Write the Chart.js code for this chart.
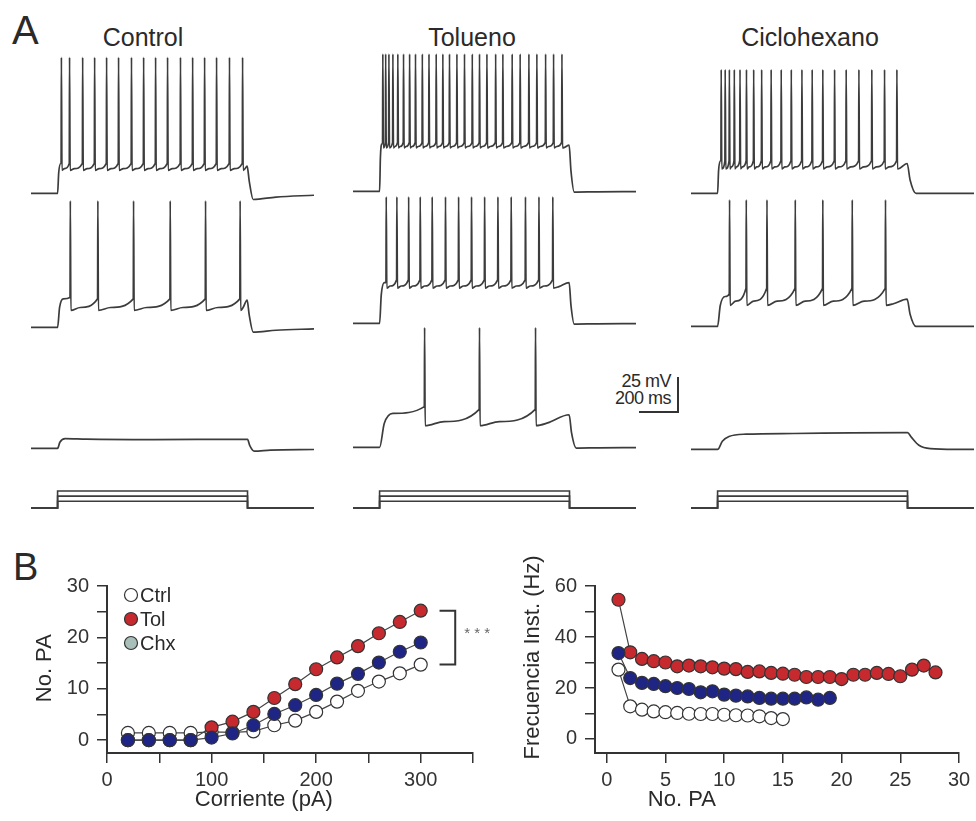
<!DOCTYPE html>
<html lang="es">
<head>
<meta charset="UTF-8">
<title>Tolueno / Ciclohexano - disparo de potenciales de acción</title>
<script src="https://cdn.jsdelivr.net/npm/chart.js@4"></script>
<style>
  body { margin: 0; background: #fff; font-family: 'Liberation Sans', Arial, Helvetica, sans-serif; color: #2a2a2a; }
  #fig { position: relative; width: 976px; height: 821px; overflow: hidden; }
  #fig canvas { position: absolute; }
  .lbl { position: absolute; white-space: nowrap; line-height: 1; }
  .panel { font-size: 40px; }
  .col-title { font-size: 25px; transform: translateX(-50%); }
  .scale-txt { font-size: 18px; text-align: right; letter-spacing: -0.5px; }
  #scalebar { position: absolute; border-right: 2px solid #333; border-bottom: 2px solid #333; }
</style>
</head>
<body>
<div id="fig">
  <div class="lbl panel" style="left:12px;top:10px">A</div>
  <div class="lbl panel" style="left:13px;top:548px;font-size:38px">B</div>
  <div class="lbl col-title" style="left:143px;top:25px">Control</div>
  <div class="lbl col-title" style="left:472px;top:25px">Tolueno</div>
  <div class="lbl col-title" style="left:810px;top:25px">Ciclohexano</div>
  <div class="lbl scale-txt" style="right:305px;top:372px">25 mV</div>
  <div class="lbl scale-txt" style="right:305px;top:389px">200 ms</div>
  <div id="scalebar"></div>
</div>

<script>
    const FONT = "'Liberation Sans', Arial, Helvetica, sans-serif";
    Chart.defaults.font.family = FONT;
    Chart.defaults.color = '#333';

    // ---------- Panel A: voltage traces ----------
    const tMin = -140, tMax = 1350;      // ms shown in each trace
    const stepOn = 0, stepOff = 1000;    // current step (ms)
    const restMV = -70;

    // spike times (ms after step onset)
    const ctrlSpikes1 = [20, 63, 132, 195, 258, 321, 389, 453, 516, 579, 647, 711, 774, 837, 905, 974];
    const ctrlSpikes2 = [67, 212, 400, 593, 779, 961];
    const tolSpikes1 = [17, 32, 49, 70, 96, 126, 158, 189, 225, 260, 298, 333, 368, 407, 447, 488, 526, 565, 611, 649, 698, 740, 786, 828, 874, 916, 960];
    const tolSpikes2 = [35, 91, 153, 214, 277, 347, 416, 484, 553, 623, 693, 768, 839, 912];
    const tolSpikes3 = [237, 526, 821];
    const chxSpikes1 = [19, 40, 62, 88, 118, 152, 190, 232, 282, 335, 388, 444, 498, 554, 616, 677, 744, 812, 879, 944];
    const chxSpikes2 = [63, 151, 260, 409, 554, 709, 884];

    // subthreshold responses: [ms, mV]
    const ctrlSub = [[-140, -70], [0, -70], [12, -65.5], [40, -62.8], [150, -63.2], [500, -63.5], [800, -63.4], [1000, -63.3], [1012, -68], [1035, -72], [1120, -71.3], [1350, -70.8]];
    const chxSub = [[-140, -70], [0, -70], [25, -64], [60, -60.5], [150, -58.8], [400, -58.3], [700, -57.8], [1000, -57.6], [1020, -61], [1060, -67], [1120, -69.5], [1250, -70], [1350, -70]];

    // levels (mV) per spiking trace: plateau, first/next pre-spike, AHP trough, peak, level at step end
    const traceLevels = {
        ctrl1: { plat: -48, pre0: -48, pre: -48, trough: -53, peak: 30, end: -50, under: 4.5, rise: 25, fall: 30 },
        ctrl2: { plat: -49, pre0: -48, pre: -49, trough: -57.5, peak: 23, end: -50, under: 3.5, rise: 30, fall: 30 },
        tol1: { plat: -35, pre0: -35, pre: -34, trough: -38, peak: 31, end: -36, under: 0.5, rise: 12, fall: 25 },
        tol2: { plat: -40, pre0: -40, pre: -38, trough: -44, peak: 23, end: -40, under: 0.5, rise: 25, fall: 25 },
        tol3: { plat: -45, pre0: -40, pre: -42, trough: -54, peak: 18, end: -46, under: 0.5, rise: 70, fall: 35 },
        chx1: { plat: -46, pre0: -46, pre: -46, trough: -52, peak: 21, end: -48, under: 0, rise: 15, fall: 45 },
        chx2: { plat: -48, pre0: -46, pre: -42, trough: -54.5, peak: 23, end: -50, under: 0, rise: 40, fall: 45 }
    };

    // current steps of the protocol (pA)
    const stimAmps = [110, 195, 280];

    // ---------- Panel B ----------
    const ivCurrent = [20, 40, 60, 80, 100, 120, 140, 160, 180, 200, 220, 240, 260, 280, 300];
    const ivCtrl = [1.4, 1.4, 1.4, 1.4, 1.6, 1.5, 1.7, 2.9, 3.8, 5.5, 7.5, 9.6, 11.4, 13, 14.7];
    const ivTol = [0, 0, 0, 0, 2.5, 3.6, 5.5, 8.2, 10.9, 13.8, 16.1, 18.3, 20.8, 23, 25.2];
    const ivChx = [0, 0, 0, 0, 0.5, 1.3, 2.9, 5.1, 6.8, 8.8, 11, 12.9, 15.1, 17.2, 19];
    const ivTicksX = [0, 50, 100, 150, 200, 250, 300, 350];
    const ivLabelsX = [0, 100, 200, 300];
    const ivTicksY = [0, 5, 10, 15, 20, 25, 30];
    const ivLabelsY = [0, 10, 20, 30];

    const paNum = [1, 2, 3, 4, 5, 6, 7, 8, 9, 10, 11, 12, 13, 14, 15, 16, 17, 18, 19, 20, 21, 22, 23, 24, 25, 26, 27, 28];
    const frTol = [54.6, 34, 31.4, 30.5, 30, 28.5, 28.8, 28.5, 28.1, 27.6, 27.4, 26.3, 26.5, 25.9, 25.6, 25.2, 24.3, 24.3, 24.3, 23.5, 25.2, 25.2, 25.9, 25.5, 24.6, 27.2, 28.8, 26.1];
    const frChx = [33.7, 23.9, 22, 21.6, 20.7, 20, 19.6, 18.3, 18.7, 17.4, 17, 16.7, 16.1, 15.8, 15.8, 15.8, 16.3, 15.4, 16.1];
    const frCtrl = [27.2, 12.8, 11.5, 10.8, 10.5, 10.2, 9.9, 9.8, 9.8, 9.5, 9.3, 9.2, 8.9, 8.2, 7.8];
    const frTicksX = [0, 5, 10, 15, 20, 25, 30];
    const frTicksY = [0, 10, 20, 30, 40, 50, 60];
    const frLabelsY = [0, 20, 40, 60];

    const seriesNames = ['Ctrl', 'Tol', 'Chx'];
    const colCtrl = '#ffffff', colTol = '#c62a2f', colChx = '#1f2584', colChxKey = '#a9bfb9';

    // ---------- layout ----------
    const fig = document.getElementById('fig');
    const pxPerMs = 0.19, pxPerMV = 1.36;
    const stepPx = [58, 380, 718];                       // x of step onset per column
    const rowBase = [[193, 191, 193], [327, 323, 326], [448, 447, 449]];
    const protoBase = 508;
    const traceH = 160, traceMin = -80;

    function addCanvas(left, top, w, h) {
        const cv = document.createElement('canvas');
        cv.width = Math.round(w);
        cv.height = Math.round(h);
        cv.style.left = Math.round(left) + 'px';
        cv.style.top = Math.round(top) + 'px';
        fig.appendChild(cv);
        return cv;
    }

    // knots of one spiking trace; drawn with monotone cubic interpolation
    function buildTrace(spikes, c) {
        const pts = [[tMin, restMV], [stepOn, restMV]];
        const rise = Math.min(c.rise, spikes[0] - 3);
        pts.push([stepOn + rise * 0.35, restMV + 0.7 * (c.plat - restMV)]);
        pts.push([stepOn + rise, c.plat]);
        spikes.forEach((ts, i) => {
            const last = pts[pts.length - 1][0];
            if (ts - 1.5 > last) pts.push([ts - 1.5, i ? c.pre : c.pre0]);
            pts.push([ts, c.peak]);
            pts.push([ts + 3, c.trough]);
            const next = i + 1 < spikes.length ? spikes[i + 1] : stepOff;
            const gap = next - ts - 5;
            const target = i + 1 < spikes.length ? c.pre : c.end;
            if (gap > 20) pts.push([ts + 3 + gap * 0.35, c.trough + 0.25 * (target - c.trough)]);
        });
        pts.push([stepOff - 2, c.end]);
        pts.push([stepOff + c.fall * 0.3, restMV + 0.45 * (c.end - restMV)]);
        pts.push([stepOff + c.fall, restMV - c.under]);
        pts.push([stepOff + c.fall + 120, restMV - c.under * 0.6]);
        pts.push([tMax, restMV - c.under * 0.3]);
        return pts;
    }

    function drawTrace(col, row, knots) {
        const base = rowBase[row][col];
        const w = (tMax - tMin) * pxPerMs;
        const cv = addCanvas(stepPx[col] + tMin * pxPerMs, base - (traceH + traceMin * pxPerMV - restMV * pxPerMV), w, traceH);
        new Chart(cv, {
            type: 'line',
            data: {
                datasets: [{
                    data: knots.map(p => ({ x: p[0], y: p[1] })),
                    borderColor: '#3c3c3c',
                    borderWidth: 1.7,
                    pointRadius: 0,
                    cubicInterpolationMode: 'monotone',
                    fill: false
                }]
            },
            options: {
                responsive: false, animation: false, events: [],
                layout: { padding: 0 },
                plugins: { legend: { display: false }, tooltip: { enabled: false } },
                scales: {
                    x: { type: 'linear', display: false, min: tMin, max: tMax },
                    y: { type: 'linear', display: false, min: traceMin, max: traceMin + traceH / pxPerMV }
                }
            }
        });
    }

    function drawProtocol(col) {
        const h = 30, below = 6;
        const cv = addCanvas(stepPx[col] + tMin * pxPerMs, protoBase - (h - below), (tMax - tMin) * pxPerMs, h);
        const pAperPx = 280 / 17;
        const sets = stimAmps.map(a => ({
            data: [{ x: tMin, y: 0 }, { x: stepOn, y: 0 }, { x: stepOn, y: a }, { x: stepOff, y: a }, { x: stepOff, y: 0 }, { x: tMax, y: 0 }],
            borderColor: '#3c3c3c', borderWidth: 1.6, pointRadius: 0, fill: false
        }));
        new Chart(cv, {
            type: 'line',
            data: { datasets: sets },
            options: {
                responsive: false, animation: false, events: [],
                layout: { padding: 0 },
                plugins: { legend: { display: false }, tooltip: { enabled: false } },
                scales: {
                    x: { type: 'linear', display: false, min: tMin, max: tMax },
                    y: { type: 'linear', display: false, min: -below * pAperPx, max: (h - below) * pAperPx }
                }
            }
        });
    }

    const L = traceLevels;
    drawTrace(0, 0, buildTrace(ctrlSpikes1, L.ctrl1));
    drawTrace(0, 1, buildTrace(ctrlSpikes2, L.ctrl2));
    drawTrace(0, 2, ctrlSub);
    drawTrace(1, 0, buildTrace(tolSpikes1, L.tol1));
    drawTrace(1, 1, buildTrace(tolSpikes2, L.tol2));
    drawTrace(1, 2, buildTrace(tolSpikes3, L.tol3));
    drawTrace(2, 0, buildTrace(chxSpikes1, L.chx1));
    drawTrace(2, 1, buildTrace(chxSpikes2, L.chx2));
    drawTrace(2, 2, chxSub);
    [0, 1, 2].forEach(drawProtocol);

    // scale bar: 25 mV / 200 ms
    const sb = document.getElementById('scalebar');
    sb.style.width = Math.round(200 * pxPerMs) + 'px';
    sb.style.height = Math.round(25 * pxPerMV) + 'px';
    sb.style.left = (679 - Math.round(200 * pxPerMs) - 2) + 'px';
    sb.style.top = (411 - Math.round(25 * pxPerMV)) + 'px';

    // ---------- Panel B plots ----------
    const figText = {
        id: 'figText',
        afterDraw(chart, args, o) {
            const { ctx, chartArea, scales } = chart;
            ctx.save();
            ctx.fillStyle = '#2a2a2a';
            ctx.font = `22px ${FONT}`;
            ctx.textAlign = 'center';
            ctx.textBaseline = 'middle';
            ctx.fillText(o.xTitle, scales.x.getPixelForValue(o.xTitleAt), chartArea.bottom + 47);
            ctx.save();
            ctx.translate(chartArea.left - 62, scales.y.getPixelForValue(o.yTitleAt));
            ctx.rotate(-Math.PI / 2);
            ctx.fillText(o.yTitle, 0, 0);
            ctx.restore();

            if (o.legend) {
                ctx.font = `20px ${FONT}`;
                ctx.textAlign = 'left';
                o.legend.forEach((item, i) => {
                    const cx = chartArea.left + 24, cy = chartArea.top + 9 + i * 24;
                    ctx.beginPath();
                    ctx.arc(cx, cy, 6.5, 0, Math.PI * 2);
                    ctx.fillStyle = item.fill;
                    ctx.fill();
                    ctx.lineWidth = 1.2;
                    ctx.strokeStyle = '#333';
                    ctx.stroke();
                    ctx.fillStyle = '#2a2a2a';
                    ctx.fillText(item.label, cx + 9, cy + 1);
                });
            }

            if (o.bracket) {
                const b = o.bracket;
                const x0 = scales.x.getPixelForValue(b.x0), x1 = scales.x.getPixelForValue(b.x1);
                const yT = scales.y.getPixelForValue(b.yTop), yB = scales.y.getPixelForValue(b.yBot);
                ctx.strokeStyle = '#333';
                ctx.lineWidth = 2;
                ctx.beginPath();
                ctx.moveTo(x0, yT); ctx.lineTo(x1, yT); ctx.lineTo(x1, yB); ctx.lineTo(x0, yB);
                ctx.stroke();
                ctx.fillStyle = '#666';
                ctx.font = `15px ${FONT}`;
                ctx.textAlign = 'center';
                ctx.fillText(b.text, x1 + 22, (yT + yB) / 2 - 4);
            }
            ctx.restore();
        }
    };

    function axisOpts(min, max, tickVals, labelVals, fitSize, isX) {
        return {
            type: 'linear', min, max,
            afterBuildTicks: s => { s.ticks = tickVals.map(v => ({ value: v })); },
            afterFit: s => { if (isX) s.height = fitSize; else s.width = fitSize; },
            ticks: {
                autoSkip: false, maxRotation: 0, padding: isX ? 5 : 8,
                color: '#333', font: { size: 20 },
                callback: v => labelVals.includes(v) ? String(v) : ''
            },
            grid: { drawOnChartArea: false, color: '#333', lineWidth: 1.5, tickLength: 10 },
            border: { display: true, color: '#333', width: 2 }
        };
    }

    function series(xs, ys, fill) {
        return {
            data: ys.map((y, i) => ({ x: xs[i], y })),
            borderColor: '#444', borderWidth: 1.2,
            pointRadius: 6.5, pointBackgroundColor: fill,
            pointBorderColor: '#333', pointBorderWidth: 1.2,
            fill: false, tension: 0
        };
    }

    // Excitability curve (No. PA vs current)
    new Chart(addCanvas(20, 550, 480, 265), {
        type: 'line',
        data: {
            datasets: [series(ivCurrent, ivChx, colChx), series(ivCurrent, ivTol, colTol), series(ivCurrent, ivCtrl, colCtrl)]
        },
        options: {
            responsive: false, animation: false, events: [],
            layout: { padding: { left: 10, top: 36, right: 27, bottom: 0 } },
            plugins: {
                legend: { display: false }, tooltip: { enabled: false },
                figText: {
                    xTitle: 'Corriente (pA)', xTitleAt: 150,
                    yTitle: 'No. PA', yTitleAt: 14,
                    legend: [{ label: seriesNames[0], fill: colCtrl }, { label: seriesNames[1], fill: colTol }, { label: seriesNames[2], fill: colChxKey }],
                    bracket: { x0: 318, x1: 333, yTop: ivTol[ivTol.length - 1], yBot: ivCtrl[ivCtrl.length - 1], text: '* * *' }
                }
            },
            scales: {
                x: axisOpts(0, 350, ivTicksX, ivLabelsX, 62, true),
                y: axisOpts(-2.5, 30, ivTicksY, ivLabelsY, 77, false)
            }
        },
        plugins: [figText]
    });

    // Instantaneous frequency vs spike number
    new Chart(addCanvas(510, 550, 466, 265), {
        type: 'line',
        data: {
            datasets: [series(paNum, frChx, colChx), series(paNum, frTol, colTol), series(paNum, frCtrl, colCtrl)]
        },
        options: {
            responsive: false, animation: false, events: [],
            layout: { padding: { left: 8, top: 36, right: 17, bottom: 0 } },
            plugins: {
                legend: { display: false }, tooltip: { enabled: false },
                figText: {
                    xTitle: 'No. PA', xTitleAt: 6.4,
                    yTitle: 'Frecuencia Inst. (Hz)', yTitleAt: 32
                }
            },
            scales: {
                x: axisOpts(-1, 30, frTicksX, frTicksX, 62, true),
                y: axisOpts(-5.5, 60, frTicksY, frLabelsY, 77, false)
            }
        },
        plugins: [figText]
    });
</script>
</body>
</html>
